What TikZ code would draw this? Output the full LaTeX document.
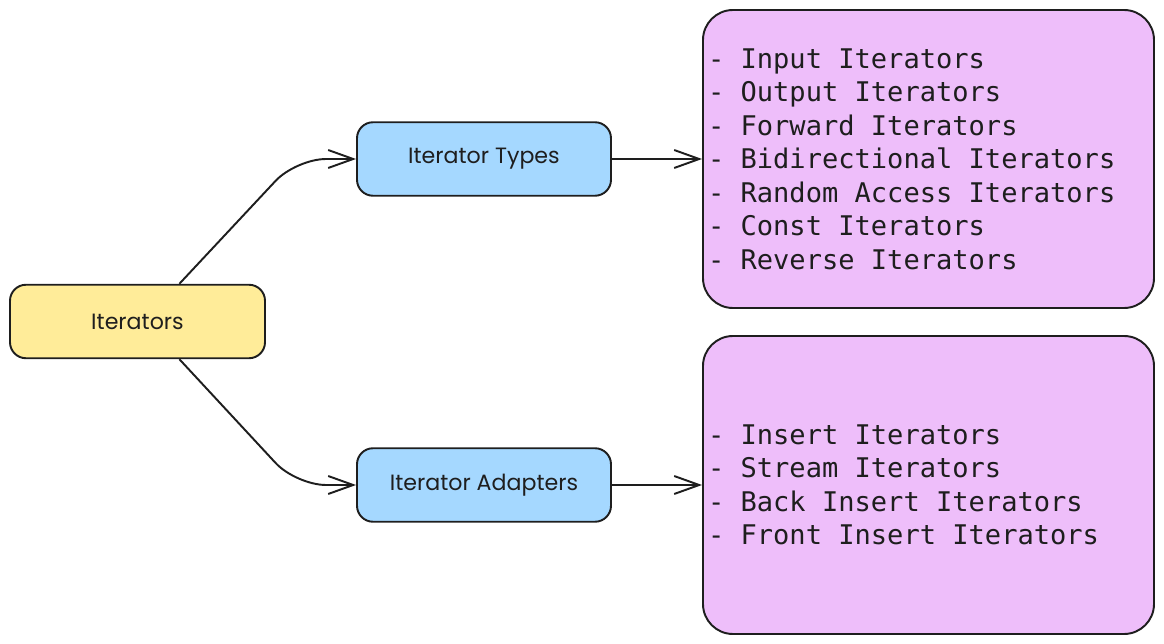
\documentclass[tikz,border=0pt]{standalone}
\usepackage{fontspec}
\setmainfont{Poppins}
\newfontfamily\listfont{DejaVu Sans Mono}
\usetikzlibrary{arrows.meta}
\definecolor{ink}{HTML}{1E1E1E}
\definecolor{butter}{HTML}{FFEC99}
\definecolor{sky}{HTML}{A5D8FF}
\definecolor{lilac}{HTML}{EEBEFA}
\tikzset{
  flow/.style={-{Straight Barb[length=5mm,width=3.6mm]},line width=1.1pt,draw=ink,rounded corners=6mm},
  box/.style={rounded corners=3.2mm,draw=ink,line width=1.1pt,minimum width=5.08cm,minimum height=1.47cm,align=center,font=\fontsize{12.6}{15}\selectfont,text=ink},
  hub/.style={box,fill=butter,minimum width=5.1cm},
  branch/.style={box,fill=sky},
  listbox/.style={rounded corners=6mm,draw=ink,line width=1.1pt,fill=lilac,minimum height=5.96cm,text width=8.82cm,inner xsep=1mm,align=flush left,font=\listfont\fontsize{15.4}{19.06}\selectfont,text=ink}
}
\begin{document}
\begin{tikzpicture}
\useasboundingbox (0,0) rectangle (23.28,-12.88);
\node[hub] (root) at (2.75,-6.43) {Iterators};
\node[branch] (types) at (9.68,-3.18) {Iterator Types};
\node[branch] (adapters) at (9.68,-9.70) {Iterator Adapters};
\node[listbox] (typelist) at (18.57,-3.18) {- Input Iterators\\- Output Iterators\\- Forward Iterators\\- Bidirectional Iterators\\- Random Access Iterators\\- Const Iterators\\- Reverse Iterators};
\node[listbox] (adaptlist) at (18.57,-9.70) {- Insert Iterators\\- Stream Iterators\\- Back Insert Iterators\\- Front Insert Iterators};
\draw[flow] (root.42) -- ([xshift=-12mm]types.west) -- (types.west);
\draw[flow] (root.-42) -- ([xshift=-12mm]adapters.west) -- (adapters.west);
\draw[flow] (types.east) -- (typelist.west);
\draw[flow] (adapters.east) -- (adaptlist.west);
\end{tikzpicture}
\end{document}
